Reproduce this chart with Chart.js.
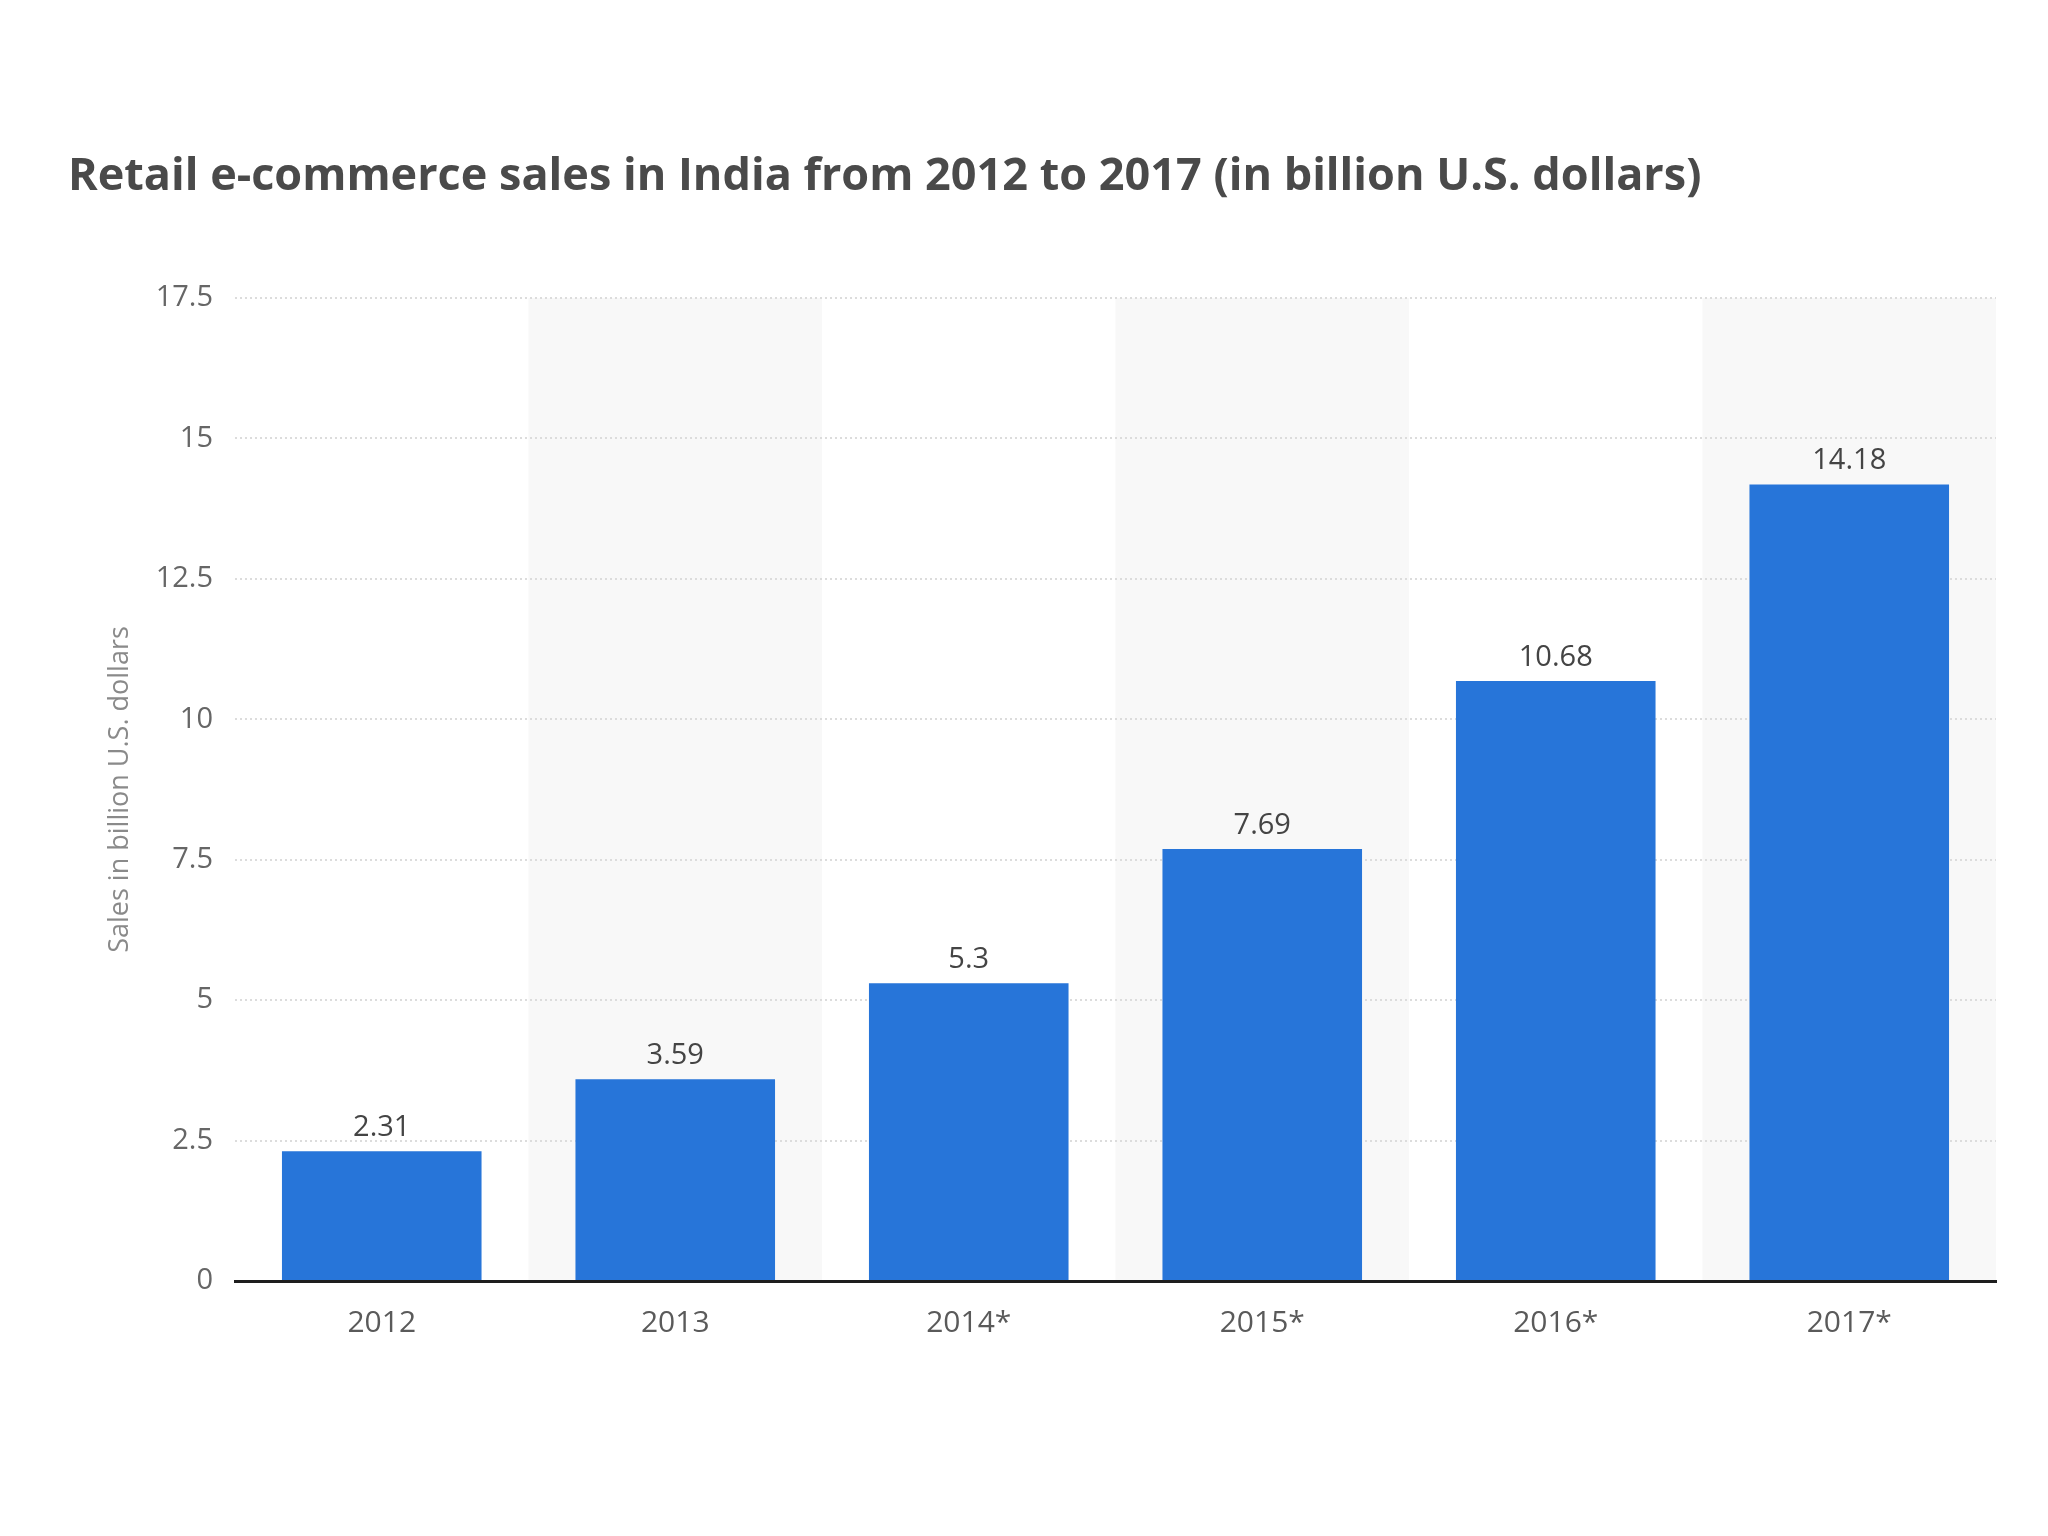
<!DOCTYPE html>
<html><head><meta charset="utf-8">
<script src="https://cdn.jsdelivr.net/npm/chart.js@4.4.1/dist/chart.umd.min.js"></script>
<style>html,body{margin:0;padding:0;background:#fff;} canvas{display:block;}</style>
</head><body>
<canvas id="c" width="2048" height="1536" style="width:2048px;height:1536px"></canvas>
<script>
const categories = ['2012', '2013', '2014*', '2015*', '2016*', '2017*'];
const salesValues = [2.31, 3.59, 5.3, 7.69, 10.68, 14.18];
const yTickValues = [0, 2.5, 5, 7.5, 10, 12.5, 15, 17.5];
const titleText = 'Retail e-commerce sales in India from 2012 to 2017 (in billion U.S. dollars)';
const yAxisTitle = 'Sales in billion U.S. dollars';

const TITLE_FAMILY = '"Liberation Sans Narrow", "Open Sans", sans-serif';
const BASE_FAMILY = '"Open Sans", sans-serif';

// fit the title font size to the reference width
const mctx = document.createElement('canvas').getContext('2d');
mctx.font = 'bold 100px ' + TITLE_FAMILY;
const titleSize = Math.round(100 * 1632 / mctx.measureText(titleText).width * 10) / 10;
const titleLH = titleSize * 1.2;
const titleCenter = 177;
const plotTop = 298;

const bandPlugin = {
  id: 'bands',
  beforeDraw(chart) {
    const {ctx, chartArea: a, scales: {x}} = chart;
    ctx.save();
    ctx.fillStyle = '#ffffff';
    ctx.fillRect(0, 0, chart.width, chart.height);
    ctx.fillStyle = '#f8f8f8';
    const w = x.width / categories.length;
    categories.forEach((c, i) => {
      if (i % 2 === 1) {
        const cx = x.getPixelForValue(i);
        ctx.fillRect(cx - w / 2, a.top, w, a.bottom - a.top);
      }
    });
    ctx.restore();
  }
};

const valueLabelPlugin = {
  id: 'valueLabels',
  afterDatasetsDraw(chart) {
    const {ctx} = chart;
    const meta = chart.getDatasetMeta(0);
    ctx.save();
    ctx.font = '29px ' + BASE_FAMILY;
    ctx.fillStyle = '#444444';
    ctx.textAlign = 'center';
    ctx.textBaseline = 'alphabetic';
    meta.data.forEach((bar, i) => {
      ctx.fillText(String(salesValues[i]), bar.x, bar.y - 15);
    });
    ctx.restore();
  }
};

new Chart(document.getElementById('c'), {
  type: 'bar',
  data: {
    labels: categories,
    datasets: [{
      data: salesValues,
      backgroundColor: '#2775D9',
      borderWidth: 0,
      barPercentage: 0.68,
      categoryPercentage: 1.0
    }]
  },
  plugins: [bandPlugin, valueLabelPlugin],
  options: {
    responsive: false,
    animation: false,
    devicePixelRatio: 1,
    layout: {padding: {left: 68, right: 52, top: 0, bottom: 195}},
    plugins: {
      legend: {display: false},
      tooltip: {enabled: false},
      title: {
        display: true,
        text: titleText,
        align: 'start',
        color: '#4a4a4a',
        font: {family: TITLE_FAMILY, size: titleSize, weight: 'bold'},
        padding: {top: titleCenter - titleLH / 2, bottom: plotTop - titleCenter - titleLH / 2}
      }
    },
    scales: {
      x: {
        z: 1,
        grid: {display: false},
        border: {display: true, color: '#1e1e1e', width: 3},
        ticks: {color: '#5a5a5a', font: {family: BASE_FAMILY, size: 30}, padding: 16, maxRotation: 0},
        afterFit(scale) { scale.height = 60; }
      },
      y: {
        min: 0,
        max: 17.5,
        afterBuildTicks(scale) { scale.ticks = yTickValues.map(v => ({value: v})); },
        afterFit(scale) { scale.width = 167; },
        grid: {
          drawTicks: false,
          lineWidth: 2,
          color: ctx => (ctx.tick && ctx.tick.value === 0) ? 'rgba(0,0,0,0)' : '#dcdcdc'
        },
        border: {display: false, dash: [2, 3]},
        ticks: {
          color: '#666666',
          font: {family: BASE_FAMILY, size: 29},
          padding: 22,
          callback: v => String(v)
        },
        title: {
          display: true,
          text: yAxisTitle,
          color: '#8a8a8a',
          font: {family: BASE_FAMILY, size: 27},
          padding: {top: 36, bottom: 0}
        }
      }
    }
  }
});
</script>
</body></html>
